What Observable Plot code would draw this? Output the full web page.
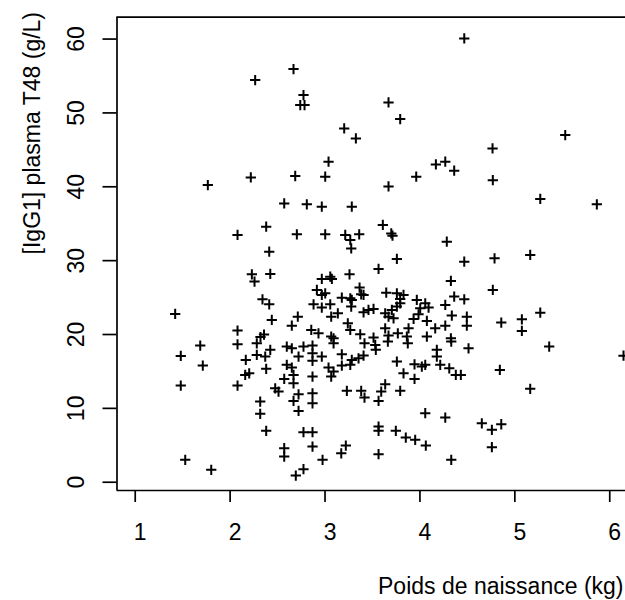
<!DOCTYPE html>
<html>
<head>
<meta charset="utf-8">
<script src="https://cdn.jsdelivr.net/npm/d3@7"></script>
<script src="https://cdn.jsdelivr.net/npm/@observablehq/plot@0.6"></script>
<style>
  html, body { margin: 0; padding: 0; background: white; overflow: hidden; }
</style>
</head>
<body>
<div id="chart"></div>
<script>
// Birth weight (kg)
const weight = [
  4.467, 2.668, 2.264, 2.773, 2.739, 2.784, 3.669, 3.792, 3.202, 3.325,
  3.037, 2.686, 3.002, 3.961, 4.168, 4.267, 4.361, 3.669, 5.531, 4.765,
  4.768, 2.218, 1.765, 5.268, 5.864, 4.467, 4.786, 5.162, 4.768, 4.467,
  4.361, 4.494, 4.494, 4.857, 5.074, 5.074, 5.268, 5.362, 4.512, 6.145,
  4.431, 4.842, 5.162, 4.652, 4.758, 4.857, 4.758, 2.570, 2.380, 2.078,
  2.412, 2.229, 2.257, 2.423, 2.341, 2.412, 2.439, 1.421, 2.078, 2.320,
  2.357, 1.685, 1.480, 1.712, 1.480, 2.078, 2.078, 2.165, 2.159, 2.201,
  2.281, 2.281, 2.370, 2.423, 2.380, 2.597, 2.597, 2.570, 2.475, 2.510,
  2.317, 2.317, 2.380, 2.570, 2.570, 1.527, 1.801, 2.650, 2.773, 2.868,
  2.721, 2.868, 2.966, 2.868, 3.177, 3.090, 3.416, 3.529, 3.535, 3.662,
  3.872, 4.178, 4.330, 3.406, 3.353, 3.282, 3.266, 3.177, 3.037, 3.090,
  3.065, 2.650, 2.668, 2.668, 2.868, 3.757, 3.827, 3.943, 4.020, 4.056,
  3.943, 4.178, 4.214, 4.309, 4.378, 3.230, 3.381, 3.416, 3.564, 3.592,
  3.634, 3.792, 2.721, 2.868, 2.668, 2.868, 2.721, 4.056, 4.267, 2.773,
  2.868, 2.868, 2.974, 2.773, 2.692, 3.219, 3.171, 3.564, 3.564, 3.746,
  3.851, 3.950, 4.062, 3.564, 4.330, 2.808, 2.966, 3.282, 3.609, 3.698,
  3.711, 2.703, 3.002, 3.213, 3.266, 3.360, 3.276, 4.283, 3.757, 3.564,
  4.326, 3.258, 2.966, 3.055, 3.072, 3.364, 3.381, 2.914, 2.966, 3.002,
  3.645, 3.757, 3.827, 3.792, 3.967, 4.056, 4.003, 4.091, 4.267, 3.177,
  3.266, 3.282, 3.406, 2.879, 2.966, 3.055, 3.276, 3.065, 3.135, 3.406,
  3.458, 3.511, 3.634, 3.669, 3.722, 3.704, 3.757, 3.792, 3.933, 3.985,
  4.073, 4.161, 4.267, 4.336, 4.326, 2.713, 2.650, 3.240, 3.266, 2.855,
  2.931, 3.065, 3.090, 3.371, 3.511, 3.634, 3.669, 3.767, 3.880, 3.862,
  4.073
];
// [IgG1] plasma at T48 (g/L)
const igg = [
  60.08, 55.94, 54.45, 52.42, 51.07, 51.07, 51.42, 49.17, 47.90, 46.55,
  43.40, 41.46, 41.37, 41.37, 43.03, 43.40, 42.18, 40.05, 47.01, 45.20,
  40.89, 41.27, 40.24, 38.35, 37.62, 29.86, 30.31, 30.77, 26.04, 24.76,
  25.13, 22.42, 21.20, 21.61, 22.06, 20.49, 22.96, 18.36, 18.13, 17.14,
  14.53, 15.21, 12.64, 7.98, 7.09, 7.85, 4.74, 37.75, 34.60, 33.48,
  31.22, 28.15, 27.16, 28.20, 24.76, 24.09, 21.98, 22.79, 20.53, 19.65,
  19.99, 18.50, 17.10, 15.79, 13.09, 18.67, 13.09, 16.56, 14.53, 14.75,
  18.81, 17.24, 17.01, 17.92, 15.35, 18.36, 15.89, 13.99, 12.72, 12.27,
  10.92, 9.26, 6.96, 4.60, 3.48, 3.03, 1.68, 18.13, 18.36, 18.50,
  17.01, 17.46, 17.01, 16.43, 17.32, 18.81, 18.81, 18.59, 17.92, 19.04,
  18.81, 17.92, 19.04, 17.15, 16.78, 16.56, 15.89, 15.79, 15.52, 14.98,
  14.30, 15.52, 14.53, 13.40, 14.30, 16.33, 14.75, 15.97, 15.66, 15.89,
  13.99, 17.01, 15.89, 15.43, 14.53, 12.37, 12.37, 11.46, 11.01, 12.27,
  13.26, 12.37, 11.91, 12.04, 11.01, 10.69, 9.66, 9.34, 8.75, 6.77,
  6.77, 4.83, 3.03, 1.76, 0.91, 4.97, 3.92, 7.54, 6.96, 6.96,
  6.05, 5.74, 4.97, 3.79, 3.03, 37.62, 37.31, 37.31, 34.83, 33.69,
  33.38, 33.56, 33.56, 33.48, 32.80, 33.56, 31.66, 32.57, 30.23, 28.88,
  27.25, 28.15, 27.52, 27.83, 27.52, 26.35, 25.44, 26.04, 25.36, 25.58,
  25.67, 25.58, 25.36, 24.82, 24.68, 24.22, 23.55, 23.64, 24.01, 24.99,
  24.90, 24.68, 25.36, 24.09, 23.64, 24.09, 23.78, 22.42, 22.87, 23.00,
  23.33, 23.46, 22.87, 22.42, 22.19, 23.33, 23.78, 24.22, 22.11, 22.73,
  21.84, 20.84, 21.20, 22.56, 19.49, 22.42, 21.20, 21.52, 20.62, 20.62,
  20.16, 19.72, 19.49, 20.03, 19.58, 20.84, 19.85, 20.16, 20.84, 19.72,
  19.72
];
const xTicks = [1, 2, 3, 4, 5, 6];
const yTicks = [0, 10, 20, 30, 40, 50, 60];
const xLabel = "Poids de naissance (kg)";
const yLabel = "[IgG1] plasma T48 (g/L)";
const xDomain = [0.808, 6.166];
const yDomain = [-1.12, 62.96];

const points = weight.map((w, i) => ({weight: w, igg: igg[i]}));

const chart = Plot.plot({
  width: 625,
  height: 600,
  marginLeft: 116.5,
  marginRight: 0,
  marginTop: 16.7,
  marginBottom: 110,
  style: {
    fontFamily: "'Liberation Sans', Arial, Helvetica, sans-serif",
    fontSize: "23px",
    background: "white",
    color: "black"
  },
  x: {domain: xDomain, axis: null},
  y: {domain: yDomain, axis: null},
  marks: [
    Plot.ruleY([yDomain[0], yDomain[1]], {stroke: "black", strokeWidth: 1.7}),
    Plot.ruleX([xDomain[0]], {stroke: "black", strokeWidth: 1.7}),
    Plot.axisX({ticks: xTicks, tickSize: 12, tickFormat: () => "", stroke: "black", strokeWidth: 1.7, label: null}),
    Plot.axisY({ticks: yTicks, tickSize: 14, tickFormat: () => "", stroke: "black", strokeWidth: 1.7, label: null}),
    Plot.text(xTicks, {x: d => d, text: d => String(d), frameAnchor: "bottom", dy: 33, dx: 5, lineAnchor: "top", fill: "black"}),
    Plot.text(yTicks, {y: d => d, text: d => String(d), frameAnchor: "left", dx: -40, rotate: -90, textAnchor: "middle", lineAnchor: "middle", fill: "black"}),
    Plot.text([xLabel], {text: d => d, frameAnchor: "bottom-right", dx: -2, dy: 103, textAnchor: "end", lineAnchor: "bottom", fill: "black"}),
    Plot.text([yLabel], {text: d => d, frameAnchor: "top-left", dx: -84, dy: 116, rotate: -90, textAnchor: "middle", lineAnchor: "middle", fill: "black"}),
    Plot.dot(points, {x: "weight", y: "igg", symbol: "plus", r: 3.4, stroke: "black", strokeWidth: 2})
  ]
});
document.getElementById("chart").appendChild(chart);
</script>
</body>
</html>
